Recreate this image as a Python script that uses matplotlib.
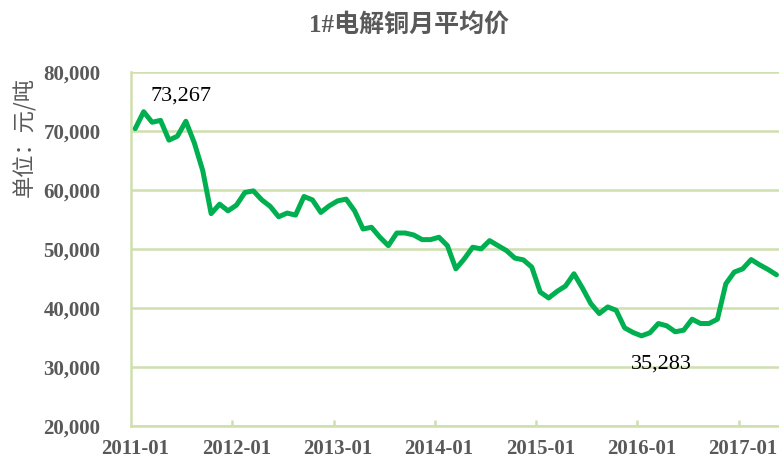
import numpy as np
import matplotlib
matplotlib.use("Agg")
import matplotlib.pyplot as plt

# monthly average price of 1# electrolytic copper, yuan/ton, 2011-01 .. 2017-05
prices = [
    70400, 73267, 71480, 71800, 68450, 69120, 71650, 68000, 63300, 56000,
    57600, 56470, 57440, 59580, 59850, 58330, 57220, 55460, 56090, 55750,
    58900, 58330, 56200, 57320, 58160, 58450, 56470, 53390, 53680, 51990,
    50570, 52710, 52710, 52380, 51590, 51590, 51990, 50570, 46640, 48330,
    50300, 50020, 51420, 50570, 49730, 48450, 48160, 46930, 42700, 41700,
    42820, 43730, 45800, 43390, 40740, 39060, 40180, 39610, 36640, 35850,
    35283, 35800, 37370, 36980, 35970, 36240, 38100, 37370, 37370, 38100,
    44110, 46090, 46640, 48210, 47320, 46530, 45630,
]
year_labels = ["2011-01", "2012-01", "2013-01", "2014-01", "2015-01", "2016-01", "2017-01"]
y_ticks = [20000, 30000, 40000, 50000, 60000, 70000, 80000]

title = "1#电解铜月平均价"
y_title = "单位：元/吨"

line_color = "#00B050"
grid_color = "#CFDFAE"
text_color = "#595959"
serif_cjk = ["Liberation Serif", "Noto Sans CJK SC", "DejaVu Sans"]

fig = plt.figure(figsize=(7.79, 4.61), dpi=100)
ax = fig.add_axes([131 / 779, 1 - 426 / 461, 1 - 131 / 779, (426 - 72) / 461])

x = np.arange(len(prices))
ax.plot(x, prices, color=line_color, lw=3.6, solid_joinstyle="round",
        solid_capstyle="round", zorder=3, clip_on=False)

ax.set_ylim(20000, 80000)
ax.set_xlim(-0.5, 76.3)
ax.set_yticks(y_ticks)
ax.set_yticklabels([f"{v:,}" for v in y_ticks])
ax.grid(axis="y", color=grid_color, lw=1.8)
ax.set_axisbelow(True)

# year boundaries get tick marks, labels sit on the january category
ax.set_xticks(np.arange(11.5, len(prices), 12))
ax.set_xticklabels([])
ax.set_xticks(np.arange(0, len(prices), 12), minor=True)
ax.set_xticklabels(year_labels, minor=True)
ax.tick_params(axis="x", which="major", direction="in", length=4.5, width=1.8, color=grid_color)
ax.tick_params(axis="x", which="minor", length=0, pad=9)
ax.tick_params(axis="y", length=0, pad=22)

for lab in ax.get_xticklabels(minor=True) + ax.get_yticklabels():
    lab.set_family("Liberation Serif")
    lab.set_weight("bold")
    lab.set_size(15)
    lab.set_color(text_color)

for side in ("top", "right"):
    ax.spines[side].set_visible(False)
for side in ("left", "bottom"):
    ax.spines[side].set_color(grid_color)
    ax.spines[side].set_linewidth(1.8)

# max / min annotations
i_max = int(np.argmax(prices))
i_min = int(np.argmin(prices))
ax.annotate(f"{prices[i_max]:,}", (i_max, prices[i_max]), xytext=(27, 11),
            textcoords="offset points", ha="center", va="center",
            family="Liberation Serif", fontsize=16, color="black")
ax.annotate(f"{prices[i_min]:,}", (i_min, prices[i_min]), xytext=(14, -20),
            textcoords="offset points", ha="center", va="center",
            family="Liberation Serif", fontsize=16, color="black")

fig.text(409 / 779, 1 - 25 / 461, title, ha="center", va="center",
         family=serif_cjk, weight="bold", fontsize=18, color=text_color)
fig.text(25 / 779, 1 - 137 / 461, y_title, ha="center", va="center", rotation=90,
         family=["Noto Sans CJK SC", "DejaVu Sans"], fontsize=16, color=text_color)

fig.savefig("out.png", dpi=100)
